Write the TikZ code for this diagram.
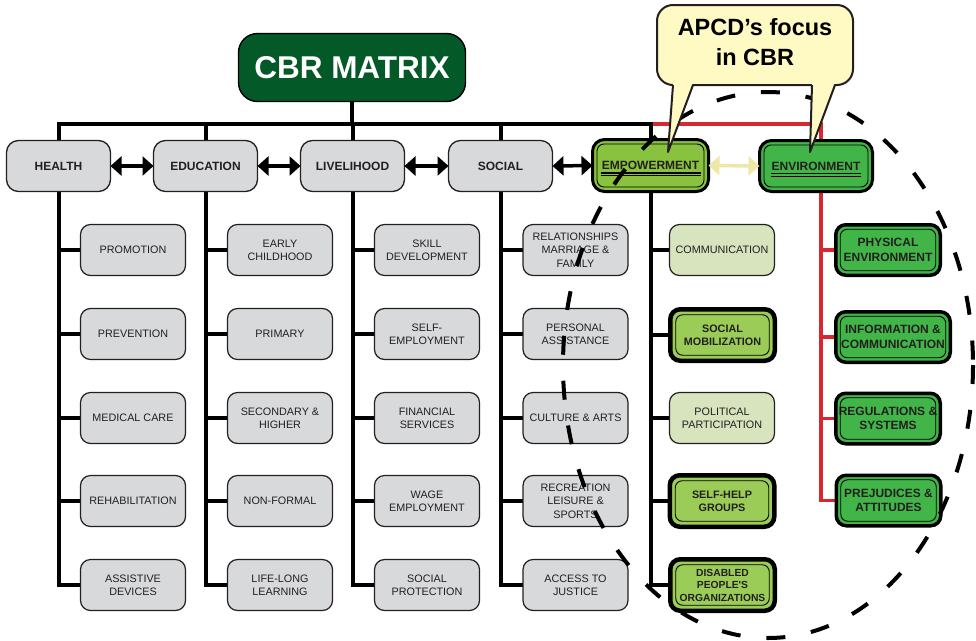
\documentclass[tikz,border=0pt]{standalone}
\usepackage{fontspec}
\setmainfont{Liberation Sans}
\usetikzlibrary{arrows.meta}
\pgfdeclarelayer{background}
\pgfsetlayers{background,main}

\definecolor{ink}{RGB}{35,31,32}
\definecolor{cbrgreen}{RGB}{3,90,40}
\definecolor{boxgrey}{RGB}{216,217,219}
\definecolor{empgreen}{RGB}{137,194,62}
\definecolor{envgreen}{RGB}{66,181,73}
\definecolor{palegreen}{RGB}{215,228,189}
\definecolor{mobgreen}{RGB}{155,204,88}
\definecolor{notepaper}{RGB}{255,249,196}
\definecolor{linkred}{RGB}{215,40,47}
\definecolor{softyellow}{RGB}{238,232,168}

\tikzset{
  basebox/.style={rectangle, rounded corners=10pt, outer sep=0pt, align=center, text=ink, inner sep=1pt},
  cbrbox/.style={basebox, draw=black, line width=1.4pt, fill=cbrgreen, rounded corners=19pt,
    minimum width=227pt, minimum height=68pt, text=white, font=\bfseries\fontsize{31.5}{36}\selectfont},
  hdrbox/.style={basebox, draw=ink, line width=1.3pt, fill=boxgrey, rounded corners=12pt,
    minimum width=104pt, minimum height=51pt, font=\bfseries\fontsize{12}{14}\selectfont},
  keyhdr/.style={hdrbox, draw=black, line width=3pt},
  subbox/.style={basebox, draw=ink, line width=1.2pt, fill=boxgrey,
    minimum width=105pt, minimum height=51pt, font=\fontsize{10.8}{13.3}\selectfont},
  softbox/.style={subbox, fill=palegreen},
  keybox/.style={subbox, draw=black, line width=4.5pt, fill=mobgreen,
    minimum width=104.5pt, minimum height=51.5pt, font=\bfseries\fontsize{10.8}{12.8}\selectfont},
  envbox/.style={subbox, draw=black, line width=3.5pt, fill=envgreen,
    minimum width=104.5pt, minimum height=50.5pt, font=\bfseries\fontsize{12}{14.5}\selectfont},
  trunkline/.style={line width=4pt, draw=black},
  redline/.style={line width=3.5pt, draw=linkred},
  pairlink/.style={line width=3.5pt, draw=black,
    {Triangle[length=11pt,width=19pt]}-{Triangle[length=11pt,width=19pt]}},
  softlink/.style={pairlink, draw=softyellow, fill=softyellow},
  dashring/.style={line width=4pt, draw=black, dash pattern=on 19pt off 26pt},
  notebox/.style={basebox, draw=ink, line width=2pt, fill=notepaper, rounded corners=16pt,
    minimum width=196pt, minimum height=80pt, text=black,
    font=\bfseries\fontsize{23.5}{30}\selectfont, text depth=7pt},
  noteedge/.style={draw=ink, line width=2pt, line join=round},
  innerrim/.style={draw=black, line width=0.9pt, rounded corners=7pt},
}

\begin{document}
\begin{tikzpicture}[x=1pt,y=-1pt]
\useasboundingbox (0,0) rectangle (976,640);

% title
\node[cbrbox] (cbr) at (352,67.5) {CBR MATRIX};

% headers
\node[hdrbox] (health) at (58.5,166) {HEALTH};
\node[hdrbox] (edu)    at (205.5,166) {EDUCATION};
\node[hdrbox] (live)   at (352.5,166) {LIVELIHOOD};
\node[hdrbox] (soc)    at (500.5,166) {SOCIAL};
\node[keyhdr, fill=empgreen, minimum width=116pt, minimum height=52pt] (emp) at (650.5,165.5) {EMPOWERMENT};
\node[keyhdr, fill=envgreen, minimum width=113pt, minimum height=51pt] (env) at (816,166) {ENVIRONMENT};

% health
\node[subbox] (h1) at (133,250) {PROMOTION};
\node[subbox] (h2) at (133,334) {PREVENTION};
\node[subbox] (h3) at (133,418) {MEDICAL CARE};
\node[subbox] (h4) at (133,501) {REHABILITATION};
\node[subbox] (h5) at (133,585) {ASSISTIVE\\DEVICES};

% education
\node[subbox] (e1) at (280,250) {EARLY\\CHILDHOOD};
\node[subbox] (e2) at (280,334) {PRIMARY};
\node[subbox] (e3) at (280,418) {SECONDARY \&\\HIGHER};
\node[subbox] (e4) at (280,501) {NON-FORMAL};
\node[subbox] (e5) at (280,585) {LIFE-LONG\\LEARNING};

% livelihood
\node[subbox] (l1) at (427,250) {SKILL\\DEVELOPMENT};
\node[subbox] (l2) at (427,334) {SELF-\\EMPLOYMENT};
\node[subbox] (l3) at (427,418) {FINANCIAL\\SERVICES};
\node[subbox] (l4) at (427,501) {WAGE\\EMPLOYMENT};
\node[subbox] (l5) at (427,585) {SOCIAL\\PROTECTION};

% social
\node[subbox] (s1) at (575.5,250) {RELATIONSHIPS\\MARRIAGE \&\\FAMILY};
\node[subbox] (s2) at (575.5,334) {PERSONAL\\ASSISTANCE};
\node[subbox] (s3) at (575.5,418) {CULTURE \& ARTS};
\node[subbox] (s4) at (575.5,501) {RECREATION\\LEISURE \&\\SPORTS};
\node[subbox] (s5) at (575.5,585) {ACCESS TO\\JUSTICE};

% empowerment
\node[softbox] (p1) at (722,250) {COMMUNICATION};
\node[keybox]  (p2) at (722.5,335) {SOCIAL\\MOBILIZATION};
\node[softbox] (p3) at (722,418) {POLITICAL\\PARTICIPATION};
\node[keybox]  (p4) at (722,501) {SELF-HELP\\GROUPS};
\node[keybox, font=\bfseries\fontsize{10.3}{12.5}\selectfont] (p5) at (722.5,585)
  {DISABLED\\PEOPLE\textquotesingle S\\ORGANIZATIONS};

% environment
\node[envbox] (v1) at (888,250) {PHYSICAL\\ENVIRONMENT};
\node[envbox, minimum width=114.5pt] (v2) at (893,337) {INFORMATION \&\\COMMUNICATION};
\node[envbox] (v3) at (888,418.5) {REGULATIONS \&\\SYSTEMS};
\node[envbox] (v4) at (888.5,500.5) {PREJUDICES \&\\ATTITUDES};

% inner rims of the highlighted boxes
\foreach \n/\d in {emp/4.5pt, env/4.5pt, p2/5.5pt, p4/5.5pt, p5/5.5pt, v1/4.5pt, v2/4.5pt, v3/4.5pt, v4/4.5pt}
  \draw[innerrim] ([shift={(\d,-\d)}]\n.north west) rectangle ([shift={(-\d,\d)}]\n.south east);

% double underline of the two key headers
\draw[line width=1.3pt] ([shift={(-50pt,-7.5pt)}]emp.center) -- ([shift={(50pt,-7.5pt)}]emp.center);
\draw[line width=0.8pt] ([shift={(-50pt,-10pt)}]emp.center) -- ([shift={(50pt,-10pt)}]emp.center);
\draw[line width=1.3pt] ([shift={(-45pt,-7.5pt)}]env.center) -- ([shift={(45pt,-7.5pt)}]env.center);
\draw[line width=0.8pt] ([shift={(-45pt,-10pt)}]env.center) -- ([shift={(45pt,-10pt)}]env.center);

% tree lines
\coordinate (bar) at (352,124);
\coordinate (envtrunk) at (821,124);
\begin{pgfonlayer}{background}
  \draw[redline] (emp.north |- bar) -- (envtrunk) |- (v4.west);
  \foreach \i in {1,2,3}
    \draw[redline] (envtrunk |- v\i.west) -- (v\i.west);
  \draw[trunkline] (cbr.south) -- (cbr.south |- bar);
  \draw[trunkline] (health.north) -- (health.north |- bar) -- (emp.north |- bar) -- (emp.north);
  \foreach \h in {edu,live,soc}
    \draw[trunkline] (\h.north) -- (\h.north |- bar);
  \foreach \h/\c in {health/h, edu/e, live/l, soc/s, emp/p} {
    \draw[trunkline] (\h.south) |- (\c5.west);
    \foreach \i in {1,2,3,4}
      \draw[trunkline] (\h.south |- \c\i.west) -- (\c\i.west);
  }
\end{pgfonlayer}

% links between neighbouring headers
\draw[pairlink] (health.east) -- (edu.west);
\draw[pairlink] (edu.east) -- (live.west);
\draw[pairlink] (live.east) -- (soc.west);
\draw[pairlink] (soc.east) -- (emp.west);
\draw[softlink] (emp.east) -- (env.west);

% dashed ring round the focus area
\coordinate (ringcentre) at (768,365);
\draw[dashring] (ringcentre) ellipse [x radius=205, y radius=273];

% speech bubble
\node[notebox] (note) at (755,45) {APCD’s focus\\in CBR};
\fill[notepaper] (673,82) -- (693,82) -- (668,152) -- cycle;
\draw[noteedge] (673,85) -- (668,152) -- (693,85);
\fill[notepaper] (812,82) -- (835,82) -- (810,152) -- cycle;
\draw[noteedge] (812,85) -- (810,152) -- (835,85);
\end{tikzpicture}
\end{document}
